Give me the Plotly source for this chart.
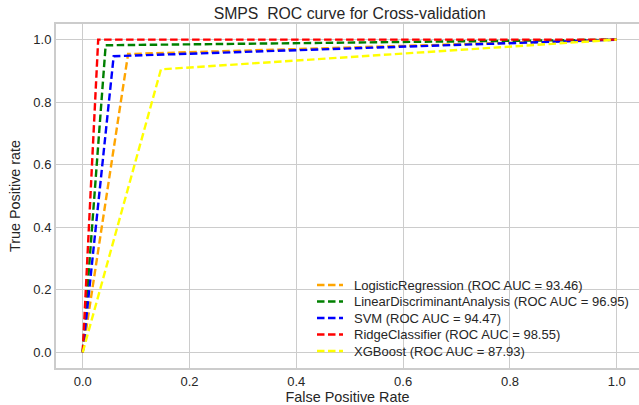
import plotly.graph_objects as go

models = ["LogisticRegression", "LinearDiscriminantAnalysis", "SVM", "RidgeClassifier", "XGBoost"]
auc = [93.46, 96.95, 94.47, 98.55, 87.93]
fpr = [[0.0, 0.085, 1.0], [0.0, 0.043, 1.0], [0.0, 0.058, 1.0], [0.0, 0.029, 1.0], [0.0, 0.1465, 1.0]]
tpr = [[0.0, 0.954, 1.0], [0.0, 0.982, 1.0], [0.0, 0.947, 1.0], [0.0, 1.0, 1.0], [0.0, 0.905, 1.0]]
colors = ["orange", "green", "blue", "red", "yellow"]
xticks = [0.0, 0.2, 0.4, 0.6, 0.8, 1.0]
yticks = [0.0, 0.2, 0.4, 0.6, 0.8, 1.0]

FONT = "Liberation Sans, Arial, sans-serif"
TXT = "#262626"
GRID = "#cccccc"
DASH = "7.5px,3.5px"

W, H = 639, 405
ML, MR, MT, MB = 56, 0, 24, 37
PW, PH = W - ML - MR, H - MT - MB


def px2paper(px, py):
    return (px - ML) / PW, (H - MB - py) / PH


fig = go.Figure()
for m, a, x, y, c in zip(models, auc, fpr, tpr, colors):
    fig.add_trace(go.Scatter(
        x=x, y=y, mode="lines", name=f"{m} (ROC AUC = {a:.2f})",
        line=dict(color=c, width=2.4, dash=DASH), showlegend=False,
    ))

# legend drawn manually (matplotlib-style compact spacing)
shapes, annotations = [], []
for i, (m, a, c) in enumerate(zip(models, auc, colors)):
    py = 285 + 16.5 * i
    x0, yy = px2paper(317, py)
    x1, _ = px2paper(343, py)
    xt, _ = px2paper(352, py)
    shapes.append(dict(type="line", xref="paper", yref="paper", x0=x0, x1=x1, y0=yy, y1=yy,
                       line=dict(color=c, width=2.4, dash=DASH)))
    annotations.append(dict(xref="paper", yref="paper", x=xt, y=yy, xanchor="left", yanchor="middle",
                            text=f"{m} (ROC AUC = {a:.2f})", showarrow=False,
                            font=dict(size=13, color=TXT, family=FONT)))

fig.update_layout(
    width=W, height=H,
    margin=dict(l=ML, r=MR, t=MT, b=MB),
    paper_bgcolor="white", plot_bgcolor="white",
    font=dict(family=FONT, size=13, color=TXT),
    title=dict(text="SMPS  ROC curve for Cross-validation", x=349.7 / W, xanchor="center",
               y=1 - 13 / H, yanchor="middle", font=dict(size=15.8, color=TXT)),
    showlegend=False,
    shapes=shapes, annotations=annotations,
    xaxis=dict(range=[-0.05, 1.0417], tickvals=xticks, ticktext=[f"{v:.1f}" for v in xticks],
               showgrid=True, gridcolor=GRID, gridwidth=1.2, zeroline=False,
               showline=True, linecolor=GRID, linewidth=2, mirror=True, ticks="",
               title=dict(text="False Positive Rate", font=dict(size=14.4, color=TXT), standoff=4),
               tickfont=dict(size=13, color=TXT)),
    yaxis=dict(range=[-0.05, 1.05], tickvals=yticks, ticktext=[f"{v:.1f}" for v in yticks],
               showgrid=True, gridcolor=GRID, gridwidth=1.2, zeroline=False,
               showline=True, linecolor=GRID, linewidth=2, mirror=False, ticks="",
               title=dict(text="True Positive rate", font=dict(size=14.4, color=TXT), standoff=9),
               tickfont=dict(size=13, color=TXT)),
)

fig.write_html("out.html")
